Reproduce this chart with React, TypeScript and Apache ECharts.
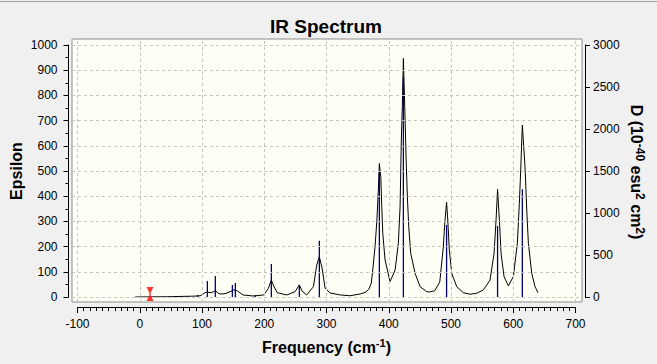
import React, { useEffect, useRef } from "react";
import * as echarts from "echarts";

// ---- data ----
const freqTicks = [-100, 0, 100, 200, 300, 400, 500, 600, 700];
const epsTicks = [0, 100, 200, 300, 400, 500, 600, 700, 800, 900, 1000];

const stickFreq = [93, 108.6, 121.4, 148.8, 153.6, 185.7, 211.4, 256.4, 288.5, 384.9, 423.5, 492.9, 574.8, 614.6];
const stickD = [25, 190, 250, 143, 167, 20, 393, 143, 670, 1490, 2620, 857, 845, 1282];

const curveFreq = [
  -7.5, 43, 81, 92, 97, 105, 108.6, 113, 117, 121.4, 126, 129, 137, 145, 151, 157, 166, 182, 199,
  206.6, 211.4, 215.7, 221, 236, 249.5, 256.4, 260.7, 268, 279, 284.3, 288.5, 292.9, 297.7, 305.7,
  322, 338, 354, 362, 368, 372, 374.3, 378, 380.8, 383.3, 384.9, 387.2, 388.8, 390.4, 394.1, 402.1,
  410.2, 415.4, 418.2, 420.2, 421.8, 423.5, 425.7, 427.8, 429.9, 432.1, 435.3, 442.3, 450.3, 461,
  466, 474, 482, 487.7, 490.4, 492.9, 494.8, 497.3, 501.2, 509.2, 519.8, 530.6, 541.3, 552, 562.7,
  569.2, 572.4, 574.8, 577.7, 580.4, 585.2, 592.1, 600.2, 606.6, 609.8, 612, 614.6, 618.9, 621.7,
  624.3, 629.7, 635, 639.8,
];
const curveEps = [
  0, 1, 3, 4, 5, 17, 20, 17, 19, 25, 15, 12, 13, 21, 28, 24, 8, 4, 8,
  34, 67, 41, 17, 8, 21, 48, 24, 8, 41, 127, 160, 115, 35, 16,
  8, 5, 12, 18, 30, 55, 107, 200, 299, 425, 530, 477, 358, 253, 147, 61,
  107, 213, 358, 623, 755, 947, 755, 557, 398, 279, 173, 94, 41, 21,
  20, 25, 60, 200, 306, 376, 306, 187, 94, 41, 17, 11, 15, 28, 67,
  173, 306, 427, 306, 173, 81, 44, 81, 213, 372, 504, 682, 517, 345,
  213, 94, 41, 17,
];

const markerFreq = 16.5;
const markerEps = 12;

const FONT = "'Liberation Sans', Arial, sans-serif";

export default function App() {
  const ref = useRef<HTMLDivElement>(null);

  useEffect(() => {
    if (!ref.current) return;
    const chart = echarts.init(ref.current, null, { renderer: "svg" });

    const box = { left: 72, top: 39, right: 582, bottom: 302 };
    const inner = { left: 77.5, top: 45, right: 575.5, bottom: 297 };
    const xScale = (inner.right - inner.left) / 800;
    const yScale = (inner.bottom - inner.top) / 1000;
    const x0min = -100 - (inner.left - box.left) / xScale;
    const x0max = 700 + (box.right - inner.right) / xScale;
    const y0min = 0 - (box.bottom - inner.bottom) / yScale;
    const y0max = 1000 + (inner.top - box.top) / yScale;

    const labelStyle = {
      color: "#000",
      fontSize: 12,
      fontFamily: FONT,
      formatter: (v: number) => String(v),
    };
    const lineBlack = { color: "#000", width: 1 };

    chart.setOption({
      animation: false,
      backgroundColor: "#f0f0f0",
      grid: [
        {
          left: box.left,
          top: box.top,
          width: box.right - box.left,
          height: box.bottom - box.top,
          show: true,
          backgroundColor: "#fffff6",
          borderColor: "#8c8c8c",
          borderWidth: 1,
        },
        {
          left: inner.left,
          top: inner.top,
          width: inner.right - inner.left,
          height: inner.bottom - inner.top,
          show: false,
        },
      ],
      xAxis: [
        {
          gridIndex: 1,
          type: "value",
          min: -100,
          max: 700,
          interval: 100,
          position: "bottom",
          offset: 10,
          axisLine: { show: true, onZero: false, lineStyle: lineBlack },
          axisTick: { show: true, length: 6, lineStyle: lineBlack },
          minorTick: { show: true, splitNumber: 10, length: 4, lineStyle: lineBlack },
          axisLabel: { ...labelStyle, margin: 11 },
          splitLine: { show: false },
        },
        { gridIndex: 0, type: "value", min: x0min, max: x0max, show: false, splitLine: { show: false } },
      ],
      yAxis: [
        {
          gridIndex: 1,
          type: "value",
          min: 0,
          max: 1000,
          interval: 100,
          position: "left",
          offset: 9,
          axisLine: { show: true, onZero: false, lineStyle: lineBlack },
          axisTick: { show: true, length: 5, lineStyle: lineBlack },
          minorTick: { show: true, splitNumber: 2, length: 3, lineStyle: lineBlack },
          axisLabel: { ...labelStyle, margin: 11 },
          splitLine: { show: false },
        },
        {
          gridIndex: 1,
          type: "value",
          min: 0,
          max: 3000,
          interval: 500,
          position: "right",
          offset: 9.5,
          axisLine: { show: true, onZero: false, lineStyle: lineBlack },
          axisTick: { show: true, length: 5, lineStyle: lineBlack },
          axisLabel: { ...labelStyle, margin: 8 },
          splitLine: { show: false },
        },
        { gridIndex: 0, type: "value", min: y0min, max: y0max, show: false, splitLine: { show: false } },
      ],
      graphic: [
        { type: "line", shape: { x1: 0, y1: 1.5, x2: 657, y2: 1.5 }, style: { stroke: "#a0a0a0", lineWidth: 1 } },
        {
          type: "text",
          x: 326,
          y: 26,
          style: {
            text: "IR Spectrum",
            font: `bold 19px ${FONT}`,
            fill: "#000",
            textAlign: "center",
            textVerticalAlign: "middle",
          },
        },
        {
          type: "text",
          x: 16,
          y: 171,
          rotation: Math.PI / 2,
          style: {
            text: "Epsilon",
            font: `bold 16px ${FONT}`,
            fill: "#000",
            textAlign: "center",
            textVerticalAlign: "middle",
          },
        },
        {
          type: "text",
          x: 326.5,
          y: 347,
          style: {
            text: "{b|Frequency (cm}{s|-1}{b|)}",
            fill: "#000",
            align: "center",
            verticalAlign: "middle",
            rich: {
              b: { fontSize: 16, fontWeight: "bold", fontFamily: FONT, lineHeight: 20, fill: "#000" },
              s: { fontSize: 11, fontWeight: "bold", fontFamily: FONT, lineHeight: 11, verticalAlign: "top", fill: "#000" },
            },
          },
        },
        {
          type: "text",
          x: 636,
          y: 172,
          rotation: -Math.PI / 2,
          style: {
            text: "{b|D (10}{s|-40}{b| esu}{s|2}{b| cm}{s|2}{b|)}",
            fill: "#000",
            align: "center",
            verticalAlign: "middle",
            rich: {
              b: { fontSize: 16, fontWeight: "bold", fontFamily: FONT, lineHeight: 20, fill: "#000" },
              s: { fontSize: 12, fontWeight: "bold", fontFamily: FONT, lineHeight: 11, verticalAlign: "top", fill: "#000" },
            },
          },
        },
      ],
      series: [
        {
          type: "line",
          xAxisIndex: 1,
          yAxisIndex: 2,
          data: [],
          silent: true,
          markLine: {
            silent: true,
            symbol: "none",
            label: { show: false },
            lineStyle: { type: [3, 3], color: "#c4c4c4", width: 1 },
            emphasis: { disabled: true },
            data: [
              ...freqTicks.map((v) => ({ xAxis: v })),
              ...epsTicks.map((v) => ({ yAxis: v })),
            ],
          },
          z: 1,
        },
        {
          type: "line",
          xAxisIndex: 0,
          yAxisIndex: 0,
          data: curveFreq.map((f, i) => [f, curveEps[i]]),
          showSymbol: false,
          symbol: "none",
          lineStyle: { color: "#000", width: 1 },
          silent: true,
          z: 3,
        },
        {
          type: "bar",
          xAxisIndex: 0,
          yAxisIndex: 1,
          data: stickFreq.map((f, i) => [f, stickD[i]]),
          barWidth: 1.3,
          itemStyle: { color: "#00007a" },
          silent: true,
          z: 4,
        },
        {
          type: "scatter",
          xAxisIndex: 0,
          yAxisIndex: 0,
          data: [[markerFreq, markerEps]],
          symbol: "path://M0,0H10L6,7V11L10,18H0L4,11V7Z",
          symbolSize: [7, 14],
          itemStyle: { color: "#ff0000" },
          silent: true,
          z: 5,
        },
      ],
    });

    return () => chart.dispose();
  }, []);

  return (
    <div
      ref={ref}
      style={{ position: "fixed", left: 0, top: 0, width: 657, height: 364 }}
    />
  );
}
